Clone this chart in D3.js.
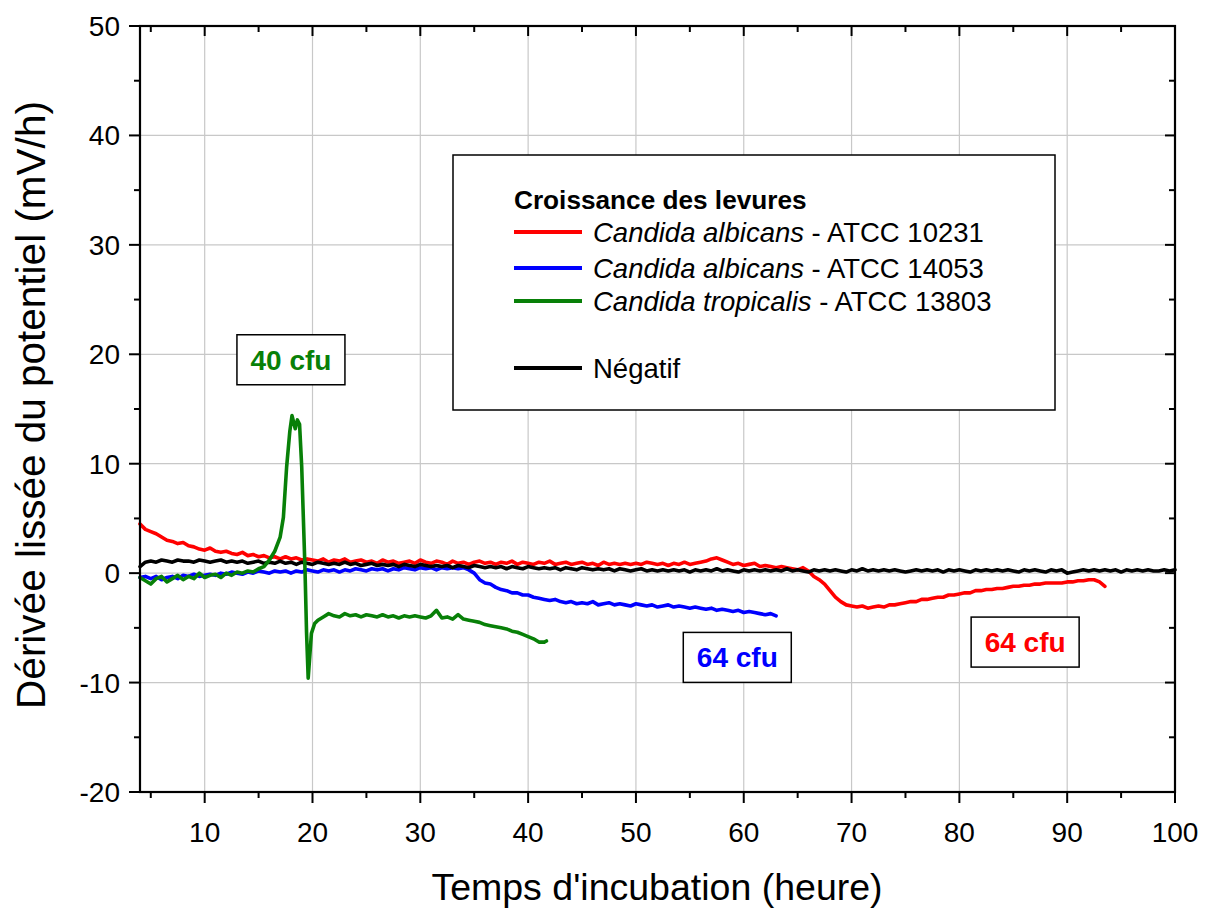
<!DOCTYPE html>
<html><head><meta charset="utf-8">
<script src="https://cdn.jsdelivr.net/npm/d3@7"></script>
<style>
body{margin:0;background:#fff;}
svg{font-family:"Liberation Sans",Arial,sans-serif;}
</style></head>
<body><svg id="c" width="1205" height="911"></svg>
<script>
// ---- data ----
const xTicks = [10,20,30,40,50,60,70,80,90,100];
const yTicks = [-20,-10,0,10,20,30,40,50];

// red: Candida albicans ATCC 10231, t = 4 .. 93.5 step 0.5
const redStart = 4, redStep = 0.5;
const redVals = [
4.5,4.0,3.8,3.6,3.3,3.0,2.9,2.7,2.8,2.5,
2.4,2.2,2.1,2.3,2.0,1.9,2.0,1.8,1.7,1.9,
1.6,1.7,1.5,1.6,1.4,1.5,1.3,1.5,1.3,1.4,
1.2,1.3,1.2,1.1,1.3,1.0,1.2,1.1,1.3,1.0,
1.1,1.2,1.0,1.1,0.9,1.2,1.0,1.1,0.9,1.0,
1.1,0.9,1.2,1.0,0.9,1.1,1.0,0.8,1.1,0.9,
1.0,0.8,1.0,1.1,0.9,1.0,0.8,1.0,0.9,1.1,
0.8,1.0,0.9,0.8,1.0,0.9,1.1,0.8,0.9,1.0,
0.8,0.9,1.0,0.8,0.9,0.7,1.0,0.8,0.9,0.8,
0.9,0.8,0.9,0.8,1.0,0.9,0.8,0.9,0.7,0.9,
0.8,1.0,0.8,0.9,1.0,1.1,1.3,1.4,1.2,1.0,
0.8,0.9,0.7,0.8,0.9,0.6,0.7,0.6,0.5,0.6,
0.5,0.4,0.3,0.5,0.2,-0.3,-0.6,-1.0,-1.6,-2.2,
-2.6,-2.9,-3.0,-3.1,-3.0,-3.2,-3.1,-3.0,-3.1,-2.9,
-2.9,-2.8,-2.7,-2.6,-2.6,-2.4,-2.4,-2.3,-2.2,-2.2,
-2.0,-2.0,-1.9,-1.8,-1.8,-1.6,-1.6,-1.5,-1.5,-1.4,
-1.4,-1.3,-1.2,-1.2,-1.1,-1.1,-1.0,-1.0,-0.9,-0.9,
-0.9,-0.9,-0.8,-0.8,-0.7,-0.7,-0.6,-0.6,-0.8,-1.2];

// blue: Candida albicans ATCC 14053, t = 4 .. 63 step 0.5
const blueStart = 4, blueStep = 0.5;
const blueVals = [-0.4,-0.3,-0.5,-0.3,-0.6,-0.4,-0.3,-0.5,-0.2,-0.3,-0.1,-0.3,-0.2,-0.1,-0.2,0.0,-0.1,0.1,0.0,-0.1,
0.1,0.0,0.2,0.1,0.0,0.2,0.1,0.2,0.0,0.2,0.1,0.3,0.2,0.1,0.3,0.2,0.3,0.1,0.3,0.2,
0.4,0.3,0.2,0.4,0.3,0.4,0.2,0.4,0.3,0.5,0.4,0.3,0.5,0.4,0.5,0.3,0.5,0.4,0.5,0.4,
0.5,0.3,0.0,-0.6,-0.9,-1.0,-1.3,-1.5,-1.6,-1.8,-1.8,-2.0,-2.0,-2.2,-2.3,-2.4,-2.5,-2.4,-2.6,-2.7,
-2.6,-2.8,-2.7,-2.8,-2.6,-2.9,-2.8,-2.7,-2.9,-2.8,-2.9,-3.0,-2.8,-2.9,-3.0,-2.9,-3.1,-3.0,-2.9,-3.1,
-3.0,-3.1,-3.2,-3.1,-3.2,-3.3,-3.2,-3.4,-3.3,-3.4,-3.5,-3.4,-3.6,-3.5,-3.6,-3.7,-3.8,-3.7,-3.9];

// green: Candida tropicalis ATCC 13803 (irregular sampling) [t, value]
const greenPts = [[4,-0.4],[4.5,-0.7],[5,-1.0],[5.5,-0.5],[6,-0.3],[6.5,-0.8],[7,-0.5],[7.5,-0.2],[8,-0.6],[8.5,-0.3],
[9,-0.5],[9.5,0.0],[10,-0.4],[10.5,-0.2],[11,-0.1],[11.5,-0.4],[12,0.0],[12.5,-0.2],[13,0.1],[13.5,0.0],
[14,0.2],[14.5,0.1],[15,0.4],[15.5,0.6],[16,1.2],[16.5,2.0],[17,3.3],[17.3,5.1],[17.6,9.7],[17.9,13.0],
[18.1,14.4],[18.4,13.2],[18.6,14.0],[18.8,13.6],[19.0,9.7],[19.3,0.5],[19.45,-5.5],[19.6,-9.6],[19.9,-5.5],[20.2,-4.6],
[20.5,-4.3],[21,-4.0],[21.5,-3.7],[22,-3.9],[22.5,-4.0],[23,-3.7],[23.5,-3.9],[24,-3.8],[24.5,-4.0],[25,-3.8],
[25.5,-3.9],[26,-4.0],[26.5,-3.8],[27,-4.0],[27.5,-3.9],[28,-4.1],[28.5,-3.9],[29,-4.0],[29.5,-3.9],[30,-4.0],
[30.5,-4.1],[31,-3.9],[31.5,-3.4],[32,-4.1],[32.5,-4.0],[33,-4.2],[33.5,-3.8],[34,-4.2],[34.5,-4.3],[35,-4.4],
[35.5,-4.5],[36,-4.7],[36.5,-4.8],[37,-4.9],[37.5,-5.0],[38,-5.1],[38.5,-5.3],[39,-5.4],[39.5,-5.6],[40,-5.8],
[40.5,-6.0],[41,-6.3],[41.5,-6.3],[41.7,-6.2]];

// black: Négatif, t = 4 .. 100 step 0.5
const blackStart = 4, blackStep = 0.5;
const blackVals = [
0.6,1.0,1.1,1.0,1.2,1.1,1.0,1.2,1.1,1.1,
1.0,1.2,1.1,1.0,1.1,1.2,1.0,1.1,1.0,1.1,
0.9,1.0,1.1,0.9,1.0,0.9,1.1,0.9,1.0,0.8,
1.0,0.9,0.8,1.0,0.9,0.8,0.9,0.8,1.0,0.8,
0.9,0.7,0.8,0.9,0.7,0.8,0.7,0.8,0.6,0.8,
0.7,0.6,0.8,0.7,0.6,0.7,0.6,0.7,0.5,0.7,
0.6,0.5,0.7,0.6,0.5,0.6,0.5,0.6,0.4,0.6,
0.5,0.4,0.6,0.5,0.4,0.5,0.4,0.5,0.3,0.5,
0.4,0.3,0.5,0.4,0.3,0.4,0.3,0.4,0.2,0.4,
0.3,0.2,0.3,0.4,0.2,0.3,0.2,0.3,0.2,0.3,
0.2,0.3,0.1,0.3,0.2,0.3,0.2,0.4,0.2,0.3,
0.2,0.1,0.3,0.2,0.3,0.2,0.3,0.2,0.3,0.2,
0.4,0.2,0.3,0.2,0.1,0.3,0.2,0.3,0.2,0.3,
0.2,0.1,0.3,0.2,0.4,0.2,0.3,0.2,0.3,0.2,
0.3,0.2,0.1,0.2,0.3,0.2,0.3,0.2,0.3,0.1,
0.3,0.2,0.3,0.2,0.1,0.3,0.2,0.3,0.2,0.3,
0.2,0.3,0.2,0.1,0.3,0.2,0.3,0.2,0.1,0.3,
0.2,0.3,0.0,0.1,0.2,0.3,0.2,0.3,0.2,0.3,
0.2,0.3,0.1,0.3,0.2,0.3,0.2,0.3,0.2,0.2,
0.3,0.2,0.3];

const legendTitle = "Croissance des levures";
const legendItems = [
  {it:"Candida albicans", rest:" - ATCC 10231", color:"#ff0000"},
  {it:"Candida albicans", rest:" - ATCC 14053", color:"#0000ff"},
  {it:"Candida tropicalis", rest:" - ATCC 13803", color:"#088008"},
  {it:"", rest:"Négatif", color:"#000000"}
];
const annotations = [
  {t:18.0, v:19.5, text:"40 cfu", color:"#088008"},
  {t:59.4, v:-7.7, text:"64 cfu", color:"#0000ff"},
  {t:86.1, v:-6.3, text:"64 cfu", color:"#ff0000"}
];

// ---- chart ----
const svg = d3.select("#c");
const L=140, R=1175, T=26, B=792;
const x = d3.scaleLinear().domain([4,100]).range([L,R]);
const y = d3.scaleLinear().domain([-20,50]).range([B,T]);

const toPts = (start, step, vals) => vals.map((v,i)=>[start+i*step, v]);
const series = [
  {pts: toPts(redStart, redStep, redVals), color:"#ff0000"},
  {pts: toPts(blueStart, blueStep, blueVals), color:"#0000ff"},
  {pts: toPts(blackStart, blackStep, blackVals), color:"#000000"},
  {pts: greenPts, color:"#088008"}
];

// grid
svg.append("g").selectAll("line").data(xTicks.filter(d=>d<100)).join("line")
  .attr("x1",d=>x(d)).attr("x2",d=>x(d)).attr("y1",T).attr("y2",B)
  .attr("stroke","#c8c8c8").attr("stroke-width",1.2);
svg.append("g").selectAll("line").data(yTicks.filter(d=>d>-20&&d<50)).join("line")
  .attr("y1",d=>y(d)).attr("y2",d=>y(d)).attr("x1",L).attr("x2",R)
  .attr("stroke","#c8c8c8").attr("stroke-width",1.2);

// lines
const line = d3.line().x(d=>x(d[0])).y(d=>y(d[1])).curve(d3.curveLinear);
svg.append("g").selectAll("path").data(series).join("path")
  .attr("d",d=>line(d.pts)).attr("fill","none").attr("stroke",d=>d.color)
  .attr("stroke-width",3.6).attr("stroke-linejoin","round").attr("stroke-linecap","round");

// axes
const xMinor = d3.range(5,100,10);
const yMinor = d3.range(-15,50,10);
const axisG = svg.append("g").attr("stroke","#000");
const ticks = (vals, minor) => vals.map(v=>({v, minor}));
const bx = ticks(xTicks,false).concat(ticks(xMinor,true));
axisG.selectAll(".tb").data(bx).join("line").attr("class","tb")
  .attr("x1",d=>x(d.v)).attr("x2",d=>x(d.v)).attr("y1",B).attr("y2",d=>B+(d.minor?6:11)).attr("stroke-width",2);
axisG.selectAll(".tt").data(bx).join("line").attr("class","tt")
  .attr("x1",d=>x(d.v)).attr("x2",d=>x(d.v)).attr("y1",T).attr("y2",d=>T+(d.minor?6:10)).attr("stroke-width",2);
const by = ticks(yTicks,false).concat(ticks(yMinor,true));
axisG.selectAll(".tl").data(by).join("line").attr("class","tl")
  .attr("y1",d=>y(d.v)).attr("y2",d=>y(d.v)).attr("x1",L).attr("x2",d=>L-(d.minor?6:11)).attr("stroke-width",2);
axisG.selectAll(".tr").data(by).join("line").attr("class","tr")
  .attr("y1",d=>y(d.v)).attr("y2",d=>y(d.v)).attr("x1",R).attr("x2",d=>R-(d.minor?6:10)).attr("stroke-width",2);
svg.append("rect").attr("x",L).attr("y",T).attr("width",R-L).attr("height",B-T)
  .attr("fill","none").attr("stroke","#000").attr("stroke-width",2.2);

// tick labels
svg.append("g").selectAll("text").data(xTicks).join("text")
  .attr("x",d=>x(d)).attr("y",B+50).attr("text-anchor","middle")
  .attr("font-size",28).text(d=>d);
svg.append("g").selectAll("text").data(yTicks).join("text")
  .attr("x",L-20).attr("y",d=>y(d)+10).attr("text-anchor","end")
  .attr("font-size",28).text(d=>d);

// axis titles
svg.append("text").attr("x",657).attr("y",900).attr("text-anchor","middle")
  .attr("font-size",37.5).text("Temps d'incubation (heure)");
svg.append("text").attr("transform","translate(45,405) rotate(-90)")
  .attr("text-anchor","middle").attr("font-size",40.5).text("Dérivée lissée du potentiel (mV/h)");

// legend
const lg = svg.append("g");
lg.append("rect").attr("x",453).attr("y",155).attr("width",602).attr("height",255)
  .attr("fill","#fff").attr("stroke","#000").attr("stroke-width",1.5);
lg.append("text").attr("x",514).attr("y",209).attr("font-size",26.2).attr("font-weight","bold").text(legendTitle);
const ly = [232,268,301,368];
legendItems.forEach((d,i)=>{
  lg.append("line").attr("x1",514).attr("x2",582).attr("y1",ly[i]).attr("y2",ly[i])
    .attr("stroke",d.color).attr("stroke-width",3.8);
  const t = lg.append("text").attr("x",593).attr("y",ly[i]+9.5).attr("font-size",27.5);
  if(d.it) t.append("tspan").attr("font-style","italic").text(d.it);
  t.append("tspan").text(d.rest);
});

// annotations
annotations.forEach(a=>{
  const cx=x(a.t), cy=y(a.v);
  svg.append("rect").attr("x",cx-54).attr("y",cy-25).attr("width",108).attr("height",50)
    .attr("fill","#fff").attr("stroke","#000").attr("stroke-width",1.5);
  svg.append("text").attr("x",cx).attr("y",cy+10).attr("text-anchor","middle")
    .attr("font-size",28).attr("font-weight","bold").attr("fill",a.color).text(a.text);
});
</script></body></html>
